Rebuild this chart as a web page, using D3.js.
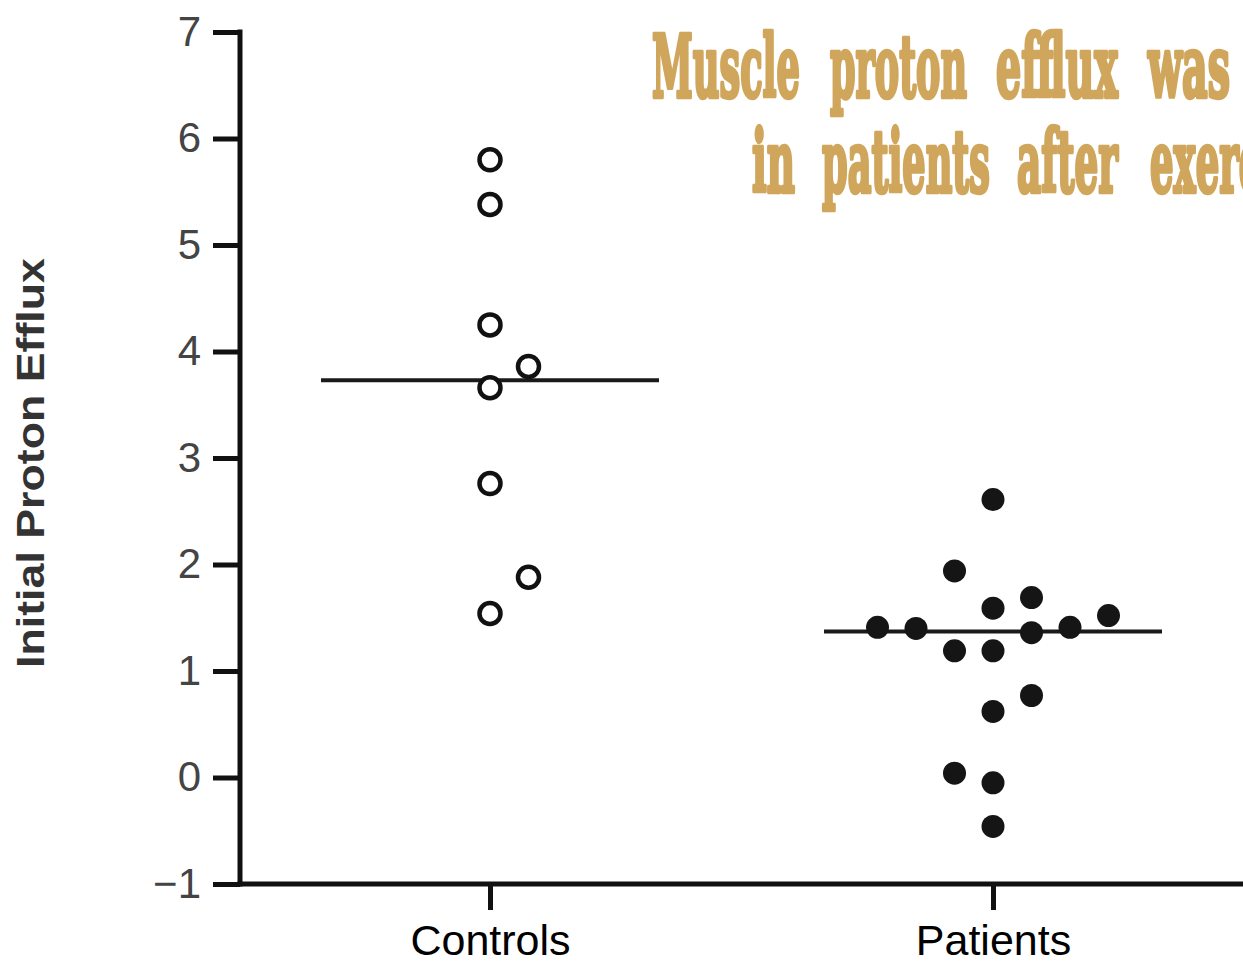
<!DOCTYPE html>
<html>
<head>
<meta charset="utf-8">
<script src="https://cdn.jsdelivr.net/npm/d3@7"></script>
<style>
  body { margin: 0; background: #fff; }
  svg { display: block; }
</style>
</head>
<body>
<svg id="chart" width="1243" height="962"></svg>
<script>
// groups on the x axis
var categories = ["Controls", "Patients"];

// controls: open circles (value, column in the swarm)
var controlsValues = [5.80, 5.38, 4.25, 3.86, 3.66, 2.76, 1.88, 1.54];
var controlsSlots  = [0, 0, 0, 1, 0, 0, 1, 0];

// patients: filled circles
var patientsValues = [2.61, 1.94, 1.59, 1.69, 1.52, 1.41, 1.40, 1.36, 1.41, 1.19, 1.19, 0.77, 0.62, 0.04, -0.05, -0.46];
var patientsSlots  = [0, -1, 0, 1, 3, -3, -2, 1, 2, -1, 0, 1, 0, -1, 0, 0];

// group means (horizontal bars)
var means = [3.73, 1.37];

var yTicks = [-1, 0, 1, 2, 3, 4, 5, 6, 7];

var titleLine1 = ["Muscle", "proton", "efflux", "was"];
var titleLine2 = ["in", "patients", "after", "exercise"];

var svg = d3.select("#chart");

var margin = { top: 32, left: 240, bottom: 78 },
    width = 1243 - margin.left,
    height = 962 - margin.top - margin.bottom;

var g = svg.append("g").attr("transform", "translate(" + margin.left + "," + margin.top + ")");

var x = d3.scalePoint().domain(categories).range([0, width]).padding(0.497);
var y = d3.scaleLinear().domain([-1, 7]).range([height, 0]);

var slotWidth = 38.5;
var meanHalf = 169;

// y axis
var yAxis = g.append("g")
    .call(d3.axisLeft(y).tickValues(yTicks).tickSize(27).tickPadding(12)
        .tickFormat(function (d) { return d < 0 ? "\u2212" + Math.abs(d) : d; }));
yAxis.select(".domain").remove();
yAxis.selectAll(".tick line").attr("stroke", "#111").attr("stroke-width", 5);
yAxis.selectAll(".tick text")
    .attr("fill", "#444")
    .style("font-family", "'Liberation Sans', Arial, sans-serif")
    .style("font-size", "42px");

g.append("line")
    .attr("x1", 0).attr("x2", 0)
    .attr("y1", y(7) - 2.5).attr("y2", y(-1) + 2.5)
    .attr("stroke", "#111").attr("stroke-width", 5);

// x axis
var xAxis = g.append("g")
    .attr("transform", "translate(0," + height + ")")
    .call(d3.axisBottom(x).tickSize(26).tickPadding(14));
xAxis.select(".domain").remove();
xAxis.selectAll(".tick line").attr("stroke", "#111").attr("stroke-width", 5);
xAxis.selectAll(".tick text")
    .attr("fill", "#000")
    .style("font-family", "'Liberation Sans', Arial, sans-serif")
    .style("font-size", "43px");

g.append("line")
    .attr("x1", -2.5).attr("x2", width)
    .attr("y1", height).attr("y2", height)
    .attr("stroke", "#111").attr("stroke-width", 5);

// y axis title
var yTitle = svg.append("text")
    .attr("text-anchor", "middle")
    .attr("fill", "#333")
    .style("font-family", "'Liberation Sans', Arial, sans-serif")
    .style("font-weight", "bold")
    .style("font-size", "39px")
    .text("Initial Proton Efflux");
var yTitleLen = yTitle.node().getComputedTextLength();
yTitle.attr("transform", "translate(44," + (margin.top + y(3) + 5) + ") rotate(-90) scale(" + (410 / yTitleLen) + ",1)");

// mean bars
g.selectAll(".mean")
    .data(means)
    .enter().append("line")
    .attr("class", "mean")
    .attr("x1", function (d, i) { return x(categories[i]) - meanHalf; })
    .attr("x2", function (d, i) { return x(categories[i]) + meanHalf; })
    .attr("y1", function (d) { return y(d); })
    .attr("y2", function (d) { return y(d); })
    .attr("stroke", "#1a1a1a")
    .attr("stroke-width", 4);

// controls
g.selectAll(".ctrl")
    .data(controlsValues)
    .enter().append("circle")
    .attr("class", "ctrl")
    .attr("cx", function (d, i) { return x("Controls") + controlsSlots[i] * slotWidth; })
    .attr("cy", function (d) { return y(d); })
    .attr("r", 10.5)
    .attr("fill", "#fff")
    .attr("stroke", "#111")
    .attr("stroke-width", 4.5);

// patients
g.selectAll(".pat")
    .data(patientsValues)
    .enter().append("circle")
    .attr("class", "pat")
    .attr("cx", function (d, i) { return x("Patients") + patientsSlots[i] * slotWidth; })
    .attr("cy", function (d) { return y(d); })
    .attr("r", 11.5)
    .attr("fill", "#151515");

// overlaid title, one word at a time, squeezed to the widths in the picture
var wordStarts = [[652, 830, 996, 1148], [752, 822, 1017, 1150]];
var wordWidths = [[148, 137, 122, 82], [43, 168, 101, 170]];
var baselines = [97, 192];

var title = svg.append("g").attr("class", "title");
[titleLine1, titleLine2].forEach(function (words, li) {
    words.forEach(function (word, wi) {
        var t = title.append("text")
            .attr("fill", "#cfa65b")
            .attr("stroke", "#cfa65b")
            .attr("stroke-width", 4.5)
            .attr("stroke-linejoin", "round")
            .style("font-family", "'DejaVu Serif', serif")
            .style("font-weight", "bold")
            .style("font-size", "86px")
            .text(word);
        var natural = t.node().getComputedTextLength();
        t.attr("transform", "translate(" + wordStarts[li][wi] + "," + baselines[li] + ") scale(" + (wordWidths[li][wi] / natural) + ",1)");
    });
});
</script>
</body>
</html>
